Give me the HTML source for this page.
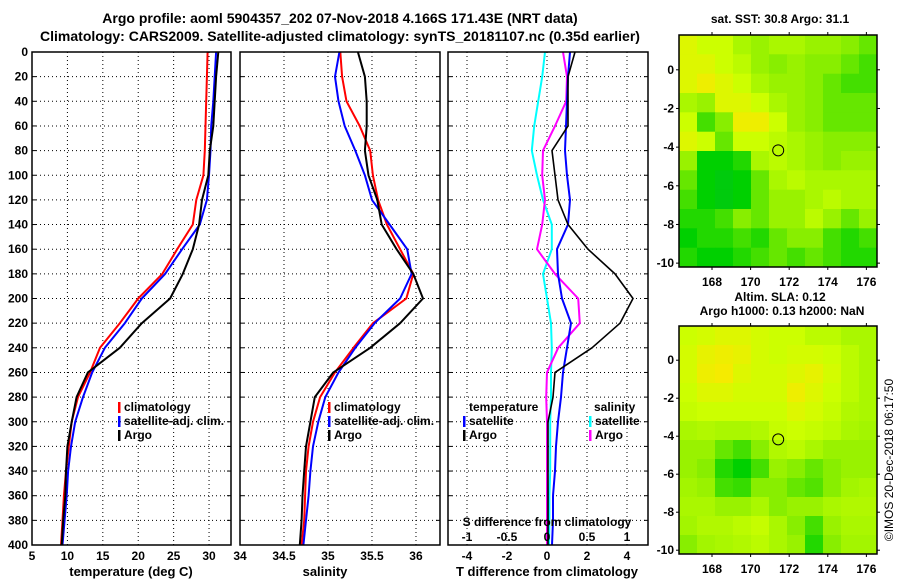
<!DOCTYPE html>
<html><head><meta charset="utf-8"><style>
html,body{margin:0;padding:0;background:#fff;}
svg{display:block;font-family:"Liberation Sans",sans-serif;font-weight:bold;}
</style></head><body>
<svg id="c" width="900" height="580" viewBox="0 0 900 580">
<text x="340" y="23" font-size="14" text-anchor="middle">Argo profile: aoml 5904357_202 07-Nov-2018 4.166S 171.43E (NRT data)</text>
<text x="340" y="41" font-size="14" text-anchor="middle">Climatology: CARS2009. Satellite-adjusted climatology: synTS_20181107.nc (0.35d earlier)</text>
<text x="780" y="23" font-size="12" text-anchor="middle">sat. SST: 30.8 Argo: 31.1</text>
<text x="780" y="301" font-size="12" text-anchor="middle">Altim. SLA: 0.12</text>
<text x="782" y="315" font-size="12" text-anchor="middle">Argo h1000: 0.13 h2000: NaN</text>
<text transform="translate(893,460) rotate(-90)" font-size="12" font-weight="normal" text-anchor="middle">©IMOS 20-Dec-2018 06:17:50</text>
<text x="131" y="576" font-size="13" text-anchor="middle">temperature (deg C)</text>
<text x="325" y="576" font-size="13" text-anchor="middle">salinity</text>
<text x="547" y="576" font-size="13" text-anchor="middle">T difference from climatology</text>
</svg>
<script>
// ---- data ----
const depths = [0,20,40,60,80,100,120,140,160,180,200,220,240,260,280,300,320,340,360,380,400];
const tempClim = [29.8,29.7,29.6,29.5,29.4,29.2,28.2,27.7,25.5,23.4,20.0,17.4,14.6,13.2,11.5,10.6,10.2,9.8,9.5,9.3,9.1];
const tempSat  = [31.0,30.8,30.6,30.3,30.2,30.0,29.7,28.7,26.2,23.8,20.5,18.1,15.3,13.5,12.2,11.1,10.5,10.1,9.9,9.6,9.3];
const tempArgo = [31.3,31.0,30.8,30.6,30.1,29.9,29.0,28.6,27.7,26.3,24.5,20.5,17.4,12.9,11.3,10.6,10.0,9.8,9.7,9.4,9.2];
const salClim = [35.14,35.16,35.21,35.36,35.48,35.51,35.57,35.67,35.82,35.97,35.89,35.51,35.29,35.08,34.91,34.83,34.78,34.75,34.74,34.73,34.70];
const salSat  = [35.13,35.08,35.12,35.19,35.31,35.42,35.50,35.70,35.90,35.95,35.82,35.53,35.31,35.12,34.97,34.89,34.83,34.80,34.78,34.75,34.72];
const salArgo = [35.34,35.42,35.44,35.44,35.42,35.46,35.56,35.61,35.78,35.97,36.08,35.82,35.48,35.06,34.85,34.80,34.75,34.73,34.71,34.70,34.68];
const dTSat  = [1.15,1.05,1.0,0.95,0.9,1.0,1.15,1.05,0.5,0.55,0.75,1.2,1.0,0.8,0.7,0.55,0.45,0.4,0.3,0.3,0.25];
const dTArgo = [1.4,1.05,1.05,1.05,0.25,0.4,0.55,1.05,2.05,3.4,4.3,3.65,2.25,0.4,0.3,0.05,0.05,0.05,0.05,0.05,0.05];
const dSSat  = [-0.025,-0.06,-0.11,-0.16,-0.19,-0.125,-0.05,0.06,0.06,-0.05,0,0.05,0.06,0.05,0.05,0.04,0.04,0.04,0.03,0.03,0.025];
const dSArgo = [0.2,0.25,0.24,0.1,-0.05,-0.06,-0.025,-0.06,-0.125,0.1,0.39,0.41,0.14,0,-0.01,0,0,0,0,0,0];
const depthTicks = [0,20,40,60,80,100,120,140,160,180,200,220,240,260,280,300,320,340,360,380,400];
const tempTicks = [5,10,15,20,25,30];
const salTicks = [34,34.5,35,35.5,36];
const salTickLabels = ["34","34.5","35","35.5","36"];
const dTTicks = [-4,-2,0,2,4];
const dSTicks = [-1,-0.5,0,0.5,1];
const dSTickLabels = ["-1","-0.5","0","0.5","1"];
const lonTicks = [168,170,172,174,176];
const latTicks = [0,-2,-4,-6,-8,-10];
const argoLon = 171.43, argoLat = -4.166;
const sstGrid = [
[0.75,0.7,0.7,0.6,0.55,0.6,0.6,0.55,0.55,0.5,0.45],
[0.75,0.75,0.7,0.65,0.55,0.5,0.55,0.5,0.5,0.45,0.4],
[0.75,0.8,0.75,0.7,0.6,0.55,0.55,0.5,0.45,0.4,0.4],
[0.6,0.55,0.75,0.75,0.7,0.6,0.55,0.5,0.45,0.45,0.45],
[0.7,0.4,0.5,0.8,0.8,0.7,0.55,0.5,0.45,0.45,0.45],
[0.75,0.7,0.45,0.7,0.7,0.65,0.6,0.55,0.5,0.5,0.5],
[0.55,0.3,0.3,0.35,0.6,0.65,0.6,0.55,0.5,0.55,0.55],
[0.45,0.3,0.25,0.3,0.45,0.6,0.65,0.6,0.6,0.6,0.6],
[0.4,0.3,0.25,0.3,0.45,0.55,0.55,0.6,0.65,0.6,0.6],
[0.35,0.35,0.4,0.5,0.45,0.55,0.55,0.65,0.55,0.45,0.55],
[0.3,0.35,0.35,0.4,0.35,0.45,0.5,0.5,0.4,0.35,0.4],
[0.35,0.3,0.3,0.35,0.4,0.45,0.4,0.45,0.4,0.35,0.35]];
const slaGrid = [
[0.7,0.72,0.75,0.75,0.72,0.7,0.7,0.65,0.65,0.6,0.6],
[0.72,0.78,0.8,0.78,0.72,0.7,0.72,0.72,0.7,0.65,0.6],
[0.72,0.8,0.82,0.75,0.72,0.72,0.75,0.78,0.72,0.65,0.6],
[0.7,0.75,0.75,0.72,0.72,0.72,0.8,0.75,0.7,0.65,0.6],
[0.68,0.7,0.7,0.7,0.7,0.7,0.75,0.72,0.68,0.62,0.6],
[0.6,0.62,0.6,0.6,0.62,0.68,0.7,0.68,0.65,0.6,0.58],
[0.55,0.55,0.45,0.4,0.5,0.62,0.65,0.6,0.55,0.55,0.55],
[0.55,0.5,0.35,0.3,0.4,0.55,0.5,0.45,0.5,0.55,0.55],
[0.58,0.55,0.4,0.38,0.5,0.5,0.45,0.42,0.5,0.58,0.6],
[0.6,0.6,0.55,0.55,0.6,0.5,0.55,0.55,0.6,0.62,0.62],
[0.58,0.62,0.62,0.65,0.68,0.6,0.5,0.4,0.55,0.6,0.6],
[0.5,0.58,0.6,0.62,0.65,0.6,0.55,0.35,0.5,0.58,0.58]];

// ---- drawing ----
const svg = document.getElementById('c');
const NS = 'http://www.w3.org/2000/svg';
function mk(tag, attrs, parent){ const e=document.createElementNS(NS,tag); for(const k in attrs) e.setAttribute(k,attrs[k]); (parent||svg).appendChild(e); return e; }
const Y0=52, Y1=545;
const yD = d => Y0 + d/400*(Y1-Y0);

function panel(name, x0, x1, xmin, xmax){
  const g = mk('g',{});
  
  
  return {g, x0, x1, sx: v => x0 + (v-xmin)/(xmax-xmin)*(x1-x0)};
}
function grid(p, xt){
  depthTicks.forEach(d=>{
    const y=yD(d);
    if(d>0&&d<400){ const l=mk('line',{x1:p.x0,x2:p.x1,y1:y,y2:y,stroke:'#000','stroke-width':1,'stroke-dasharray':'1,3'},p.g);
        }
    mk('line',{x1:p.x0,x2:p.x0+4,y1:y,y2:y,stroke:'#000'},p.g);
    mk('line',{x1:p.x1-4,x2:p.x1,y1:y,y2:y,stroke:'#000'},p.g);
  });
  xt.forEach(v=>{
    const x=p.sx(v);
    if(x>p.x0+1&&x<p.x1-1){ const l=mk('line',{x1:x,x2:x,y1:Y0,y2:Y1,stroke:'#000','stroke-width':1,'stroke-dasharray':'1,3'},p.g);
        }
  });
}
function frame(p){
  const r=mk('rect',{x:p.x0,y:Y0,width:p.x1-p.x0,height:Y1-Y0,fill:'none',stroke:'#000','stroke-width':1.5},p.g);
   
}
function line(p, vals, color, name, w){
  const pts = vals.map((v,i)=>p.sx(v).toFixed(1)+','+yD(depths[i]).toFixed(1)).join(' ');
  const e=mk('polyline',{points:pts,fill:'none',stroke:color,'stroke-width':w||2,'stroke-linejoin':'round'},p.g);
  
  
}
function xlabels(p, ticks, labels, y, name){
  ticks.forEach((v,i)=>{
    const t=mk('text',{x:p.sx(v),y:y,'font-size':12,'text-anchor':'middle'},p.g);
    t.textContent=labels? labels[i] : String(v);
    
    
  });
}
function legend(p, x, y, color, label, name){
  mk('rect',{x:x,y:y-9,width:2.5,height:11,fill:color},p.g);
  const t=mk('text',{x:x+6,y:y,'font-size':12},p.g);
  t.textContent=label;
  
  
}

// Panel 1: temperature
const p1 = panel('temperature-panel', 32, 231, 5, 33.1);
grid(p1, tempTicks);
line(p1, tempClim, '#ff0000', 'temperature-climatology-line');
line(p1, tempSat, '#0000ff', 'temperature-satellite-line');
line(p1, tempArgo, '#000000', 'temperature-argo-line');
frame(p1);
xlabels(p1, tempTicks, null, 560, 'temperature-tick-label');
depthTicks.forEach(d=>{
  const t=mk('text',{x:28,y:yD(d)+4,'font-size':12,'text-anchor':'end'});
  t.textContent=String(d);
  
  
});
legend(p1,118,411,'#ff0000','climatology','legend-climatology');
legend(p1,118,425,'#0000ff','satellite-adj. clim.','legend-satellite-adj');
legend(p1,118,439,'#000000','Argo','legend-argo');

// Panel 2: salinity
const p2 = panel('salinity-panel', 240, 440, 34, 36.273);
grid(p2, salTicks);
line(p2, salClim, '#ff0000', 'salinity-climatology-line');
line(p2, salSat, '#0000ff', 'salinity-satellite-line');
line(p2, salArgo, '#000000', 'salinity-argo-line');
frame(p2);
xlabels(p2, salTicks, salTickLabels, 560, 'salinity-tick-label');
legend(p2,328,411,'#ff0000','climatology','legend-climatology-2');
legend(p2,328,425,'#0000ff','satellite-adj. clim.','legend-satellite-adj-2');
legend(p2,328,439,'#000000','Argo','legend-argo-2');

// Panel 3: differences (S plotted on T axis with factor 4)
const p3 = panel('difference-panel', 448, 648, -4.95, 5.05);
const pS = {g:p3.g, x0:448, x1:648, sx: v => p3.sx(v*4)};
grid(p3, dTTicks);
line(pS, dSSat, '#00ffff', 'salinity-diff-satellite-line');
line(pS, dSArgo, '#ff00ff', 'salinity-diff-argo-line');
line(p3, dTSat, '#0000ff', 'temperature-diff-satellite-line');
line(p3, dTArgo, '#000000', 'temperature-diff-argo-line', 1.6);
frame(p3);
xlabels(p3, dTTicks, null, 560, 't-diff-tick-label');
xlabels(pS, dSTicks, dSTickLabels, 541, 's-diff-tick-label');
{ const t=mk('text',{x:547,y:526,'font-size':12,'text-anchor':'middle'},p3.g); t.textContent='S difference from climatology';
    }
{ const t=mk('text',{x:469,y:411,'font-size':12},p3.g); t.textContent='temperature';
    }
legend(p3,463,425,'#0000ff','satellite','legend-t-satellite');
legend(p3,463,439,'#000000','Argo','legend-t-argo');
{ const t=mk('text',{x:594,y:411,'font-size':12},p3.g); t.textContent='salinity';
    }
legend(p3,589,425,'#00ffff','satellite','legend-s-satellite');
legend(p3,589,439,'#ff00ff','Argo','legend-s-argo');

// Maps
const cstops=[[0,[0,176,80]],[0.3,[0,208,0]],[0.5,[136,238,0]],[0.7,[204,255,0]],[0.85,[255,230,0]],[1,[255,160,0]]];
function cmap(v){
  for(let i=1;i<cstops.length;i++){ if(v<=cstops[i][0]){ const a=cstops[i-1],b=cstops[i],t=(v-a[0])/(b[0]-a[0]);
    return 'rgb('+a[1].map((c,k)=>Math.round(c+(b[1][k]-c)*t)).join(',')+')'; } }
  return 'rgb(255,160,0)';
}
function map(name, x0, x1, y0, y1, gridv, lonLabelY){
  const g=mk('g',{});
  
  
  const lonMin=166.29, lonMax=176.55, latMax=1.8, latMin=-10.2;
  const sx=v=>x0+(v-lonMin)/(lonMax-lonMin)*(x1-x0);
  const sy=v=>y0+(latMax-v)/(latMax-latMin)*(y1-y0);
  const rows=gridv.length, cols=gridv[0].length;
  gridv.forEach((row,r)=>row.forEach((v,c)=>{
    const lw=(lonMax-lonMin)/cols, lh=(latMax-latMin)/rows;
    const xa=sx(lonMin+c*lw), xb=sx(lonMin+(c+1)*lw), ya=sy(latMax-r*lh), yb=sy(latMax-(r+1)*lh);
    const cell=mk('rect',{x:xa.toFixed(1),y:ya.toFixed(1),width:(xb-xa+0.5).toFixed(1),height:(yb-ya+0.5).toFixed(1),fill:cmap(v)},g);
    
    
  }));
  const fr=mk('rect',{x:x0,y:y0,width:x1-x0,height:y1-y0,fill:'none',stroke:'#000','stroke-width':1.5},g);
   
  const ci=mk('circle',{cx:sx(argoLon),cy:sy(argoLat),r:5.5,fill:'none',stroke:'#000','stroke-width':1},g);
   
  lonTicks.forEach(v=>{
    mk('line',{x1:sx(v),x2:sx(v),y1:y0-3,y2:y0,stroke:'#000'},g);
    mk('line',{x1:sx(v),x2:sx(v),y1:y1,y2:y1+3,stroke:'#000'},g);
    const t=mk('text',{x:sx(v),y:lonLabelY,'font-size':12,'text-anchor':'middle'},g); t.textContent=String(v);
     
  });
  latTicks.forEach(v=>{
    mk('line',{x1:x0-3,x2:x0,y1:sy(v),y2:sy(v),stroke:'#000'},g);
    mk('line',{x1:x1,x2:x1+3,y1:sy(v),y2:sy(v),stroke:'#000'},g);
    const t=mk('text',{x:x0-5,y:sy(v)+4,'font-size':12,'text-anchor':'end'},g); t.textContent=String(v);
     
  });
}
map('sst-map',679,877,35,267,sstGrid,286);
map('sla-map',679,877,326,554,slaGrid,573);
</script>
</body></html>
